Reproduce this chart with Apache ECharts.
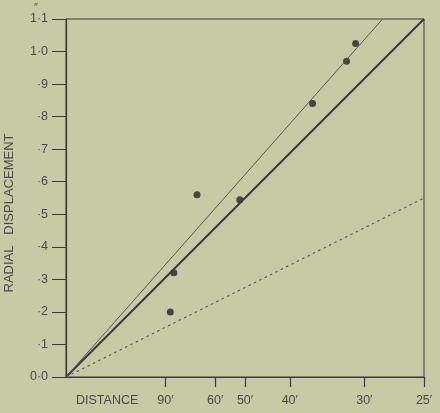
<!DOCTYPE html>
<html>
<head>
<meta charset="utf-8">
<script src="https://cdn.jsdelivr.net/npm/echarts@6/dist/echarts.min.js"></script>
<style>
html,body{margin:0;padding:0;background:#c7caa5;}
#chart{width:440px;height:413px;}
</style>
</head>
<body>
<div id="chart"></div>
<script>
// Observed points: distance (minutes of arc) and radial displacement (inches)
const pointDistances = [85.8, 83.0, 68.3, 51.5, 36.3, 31.9, 30.9];
const pointDisplacements = [0.20, 0.32, 0.56, 0.545, 0.84, 0.97, 1.025];
// Distance tick labels (minutes of arc), plotted on a reciprocal scale
const distanceTicks = [90, 60, 50, 40, 30, 25];
// Displacement ticks
const yTicks = [0, 0.1, 0.2, 0.3, 0.4, 0.5, 0.6, 0.7, 0.8, 0.9, 1.0, 1.1];
// Lines through origin: [reciprocal distance, displacement] endpoints
const heavyLine = [[0, 0], [0.04, 1.1]];
const lightLine = [[0, 0], [0.03537, 1.1]];
const dottedLine = [[0, 0], [0.04, 0.55]];

const ink = '#3b3b34';
const textInk = '#4a4a42';
const font = '"Liberation Sans", Arial, sans-serif';

const scatterData = pointDistances.map((d, i) => [1 / d, pointDisplacements[i]]);
const xTickValues = distanceTicks.map(d => 1 / d);

function yLabel(v) {
  const n = Math.round(v * 10);
  if (n === 0) return '0·0';
  if (n < 10) return '·' + n;
  return Math.floor(n / 10) + '·' + (n % 10);
}

const chart = echarts.init(document.getElementById('chart'), null, {renderer: 'canvas'});
chart.setOption({
  backgroundColor: '#c7caa5',
  animation: false,
  grid: {
    left: 66, right: 16, top: 19, bottom: 36,
    show: true, borderColor: ink, borderWidth: 1, backgroundColor: 'transparent'
  },
  xAxis: {
    type: 'value', min: 0, max: 0.04,
    axisLine: {show: true, lineStyle: {color: ink, width: 1.2}},
    axisTick: {show: true, length: 10, customValues: xTickValues, lineStyle: {color: ink, width: 1.2}},
    axisLabel: {
      show: true, customValues: xTickValues, margin: 17,
      color: textInk, fontFamily: font, fontSize: 12.5,
      formatter: v => Math.round(1 / v) + '′'
    },
    splitLine: {show: false}
  },
  yAxis: {
    type: 'value', min: 0, max: 1.1, interval: 0.1,
    axisLine: {show: true, lineStyle: {color: ink, width: 1.2}},
    axisTick: {show: true, length: 14, lineStyle: {color: ink, width: 1}},
    axisLabel: {show: true, margin: 18, color: textInk, fontFamily: font, fontSize: 12.5, formatter: yLabel},
    splitLine: {show: false}
  },
  graphic: [
    {type: 'text', left: 76, top: 394, style: {text: 'DISTANCE', fill: textInk, font: '12.5px ' + font}},
    {type: 'text', x: 9, y: 213, rotation: Math.PI / 2, style: {text: 'RADIAL   DISPLACEMENT', fill: textInk, font: '13px ' + font, align: 'center', verticalAlign: 'middle'}},
    {type: 'text', left: 34, top: 2, style: {text: '″', fill: textInk, font: '11px ' + font}}
  ],
  series: [
    {type: 'line', data: heavyLine, symbol: 'none', lineStyle: {color: ink, width: 2}, silent: true},
    {type: 'line', data: lightLine, symbol: 'none', lineStyle: {color: '#55554c', width: 1}, silent: true},
    {type: 'line', data: dottedLine, symbol: 'none', lineStyle: {color: '#5a5a50', width: 1.2, type: [2.5, 3.5]}, silent: true},
    {type: 'scatter', data: scatterData, symbolSize: 7, itemStyle: {color: '#26261f'}}
  ]
});
</script>
</body>
</html>
